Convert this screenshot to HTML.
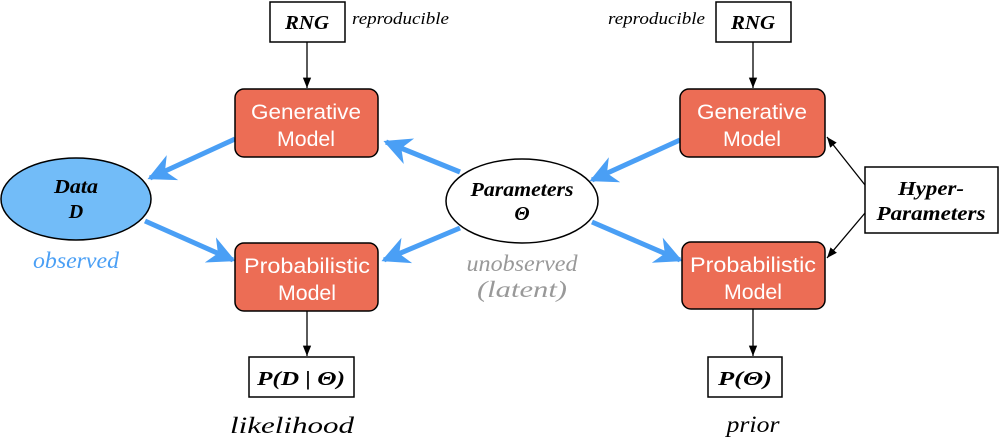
<!DOCTYPE html>
<html><head><style>
body{margin:0;background:#fff;}
svg{display:block;}
.box{font-family:"Liberation Sans",sans-serif;font-size:21px;fill:#fff;text-anchor:middle;}
.it{font-family:"Liberation Serif",serif;font-style:italic;text-anchor:middle;}
</style></head><body>
<svg width="1001" height="443" viewBox="0 0 1001 443">
<defs>
<marker id="bh" viewBox="0 0 10 10" refX="9" refY="5" markerWidth="5.5" markerHeight="6" orient="auto" markerUnits="strokeWidth"><path d="M0,0 L10,5 L0,10 L3,5 z" fill="#4a9ff5"/></marker>
<marker id="kh" viewBox="0 0 10 10" refX="10" refY="5" markerWidth="8" markerHeight="8" orient="auto" markerUnits="strokeWidth"><path d="M0,1 L10,5 L0,9 z" fill="#000"/></marker>
</defs>
<g stroke="#4a9ff5" stroke-width="5" fill="none" marker-end="url(#bh)">
<line x1="235" y1="139" x2="150" y2="178"/>
<line x1="145" y1="221" x2="233" y2="260"/>
<line x1="460" y1="172" x2="386" y2="142"/>
<line x1="460" y1="228" x2="384" y2="260"/>
<line x1="680" y1="140" x2="592" y2="180"/>
<line x1="592" y1="222" x2="680" y2="260"/>
</g>
<g stroke="#000" stroke-width="1.3" marker-end="url(#kh)">
<line x1="307" y1="42" x2="307" y2="88"/>
<line x1="753" y1="42" x2="753" y2="88"/>
<line x1="307" y1="311" x2="307" y2="356"/>
<line x1="753" y1="309" x2="753" y2="356"/>
<line x1="865" y1="185" x2="827" y2="137"/>
<line x1="865" y1="213" x2="827" y2="258"/>
</g>
<g fill="#ec6d55" stroke="#000" stroke-width="1.5">
<rect x="235" y="89" width="143" height="68" rx="9"/>
<rect x="235" y="243" width="143" height="68" rx="9"/>
<rect x="680" y="89" width="145" height="68" rx="9"/>
<rect x="682" y="242" width="143" height="67" rx="9"/>
</g>
<g lengthAdjust="spacingAndGlyphs">
<text class="box" x="306" y="119" textLength="110" lengthAdjust="spacingAndGlyphs">Generative</text><text class="box" x="306" y="146" textLength="58" lengthAdjust="spacingAndGlyphs">Model</text>
<text class="box" x="307" y="273" textLength="126" lengthAdjust="spacingAndGlyphs">Probabilistic</text><text class="box" x="307" y="300" textLength="58" lengthAdjust="spacingAndGlyphs">Model</text>
<text class="box" x="752" y="119" textLength="110" lengthAdjust="spacingAndGlyphs">Generative</text><text class="box" x="752" y="146" textLength="58" lengthAdjust="spacingAndGlyphs">Model</text>
<text class="box" x="753" y="272" textLength="126" lengthAdjust="spacingAndGlyphs">Probabilistic</text><text class="box" x="753" y="299" textLength="58" lengthAdjust="spacingAndGlyphs">Model</text>
</g>
<ellipse cx="76" cy="199" rx="75" ry="41" fill="#72bcf8" stroke="#000" stroke-width="1.5"/>
<text class="it" x="76" y="193" font-size="20" font-weight="bold" textLength="44" lengthAdjust="spacingAndGlyphs">Data</text>
<text class="it" x="76" y="218" font-size="20" font-weight="bold">D</text>
<ellipse cx="522" cy="201" rx="76" ry="42" fill="#fff" stroke="#000" stroke-width="1.5"/>
<text class="it" x="522" y="196" font-size="20" font-weight="bold" textLength="103" lengthAdjust="spacingAndGlyphs">Parameters</text>
<text class="it" x="522" y="220" font-size="20" font-weight="bold">Θ</text>
<g fill="#fff" stroke="#000" stroke-width="1.5">
<rect x="270" y="2" width="75" height="40"/>
<rect x="716" y="2" width="75" height="40"/>
<rect x="865" y="167" width="133" height="66"/>
<rect x="249" y="357" width="105" height="40"/>
<rect x="708" y="357" width="74" height="40"/>
</g>
<text class="it" x="307" y="29" font-size="20" font-weight="bold" textLength="44" lengthAdjust="spacingAndGlyphs">RNG</text>
<text class="it" x="753" y="29" font-size="20" font-weight="bold" textLength="44" lengthAdjust="spacingAndGlyphs">RNG</text>
<text class="it" x="931" y="195" font-size="20" font-weight="bold" textLength="66" lengthAdjust="spacingAndGlyphs">Hyper-</text>
<text class="it" x="931" y="220" font-size="20" font-weight="bold" textLength="109" lengthAdjust="spacingAndGlyphs">Parameters</text>
<text class="it" x="301" y="385" font-size="20" font-weight="bold" textLength="88" lengthAdjust="spacingAndGlyphs">P(D | Θ)</text>
<text class="it" x="745" y="385" font-size="20" font-weight="bold" textLength="54" lengthAdjust="spacingAndGlyphs">P(Θ)</text>
<text class="it" x="352" y="24" font-size="17" style="text-anchor:start" textLength="97" lengthAdjust="spacingAndGlyphs">reproducible</text>
<text class="it" x="608" y="24" font-size="17" style="text-anchor:start" textLength="97" lengthAdjust="spacingAndGlyphs">reproducible</text>
<text class="it" x="76" y="268" font-size="23" fill="#4a9ff5" textLength="86" lengthAdjust="spacingAndGlyphs">observed</text>
<text class="it" x="522" y="271" font-size="23" fill="#999" textLength="111" lengthAdjust="spacingAndGlyphs">unobserved</text>
<text class="it" x="522" y="297" font-size="23" fill="#999" textLength="90" lengthAdjust="spacingAndGlyphs">(latent)</text>
<text class="it" x="292" y="433" font-size="23" textLength="124" lengthAdjust="spacingAndGlyphs">likelihood</text>
<text class="it" x="753" y="432" font-size="23" textLength="53" lengthAdjust="spacingAndGlyphs">prior</text>
</svg>
</body></html>
